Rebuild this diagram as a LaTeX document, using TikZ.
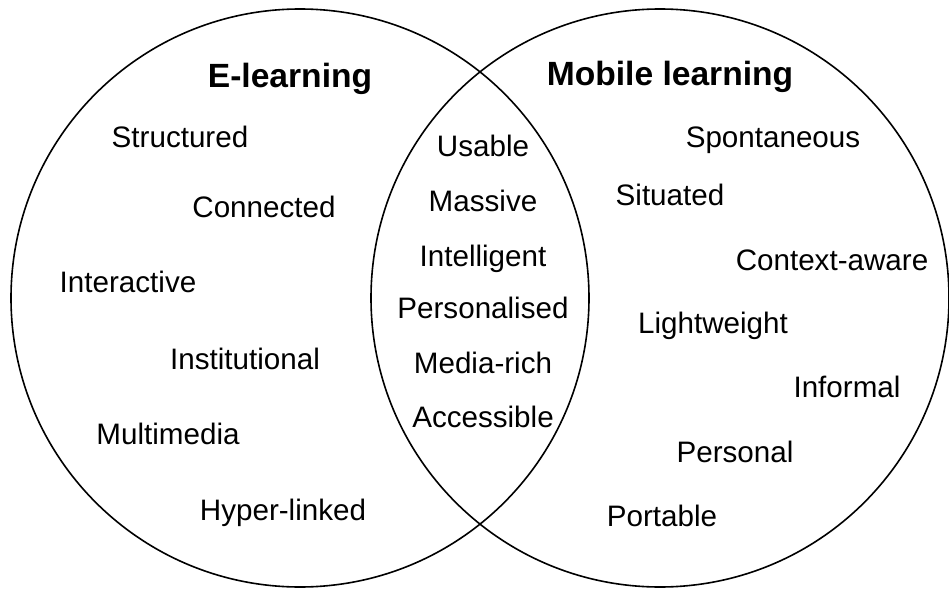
\documentclass[tikz,border=0pt]{standalone}
\usepackage{fontspec}
\setmainfont{Liberation Sans}
\begin{document}
\begin{tikzpicture}[x=0.5pt,y=-0.5pt,
  word/.style={anchor=base,inner sep=0pt,font=\fontsize{14.8}{17}\selectfont},
  title/.style={anchor=base,inner sep=0pt,font=\fontsize{16.8}{19}\selectfont\bfseries},
  ring/.style={draw=black,line width=0.8pt}]
\useasboundingbox (0,0) rectangle (949,589);
\draw[ring] (300,298) circle[radius=289*0.5pt];
\draw[ring] (660,298) circle[radius=289*0.5pt];
\node[title] (el) at (290,87) {E-learning};
\node[title] (ml) at (670,85) {Mobile learning};
\node[word] (w1) at (180,147) {Structured};
\node[word] (w2) at (264,217) {Connected};
\node[word] (w3) at (128,292) {Interactive};
\node[word] (w4) at (245,369) {Institutional};
\node[word] (w5) at (168,444) {Multimedia};
\node[word] (w6) at (283,520) {Hyper-linked};
\node[word] (c1) at (483,156) {Usable};
\node[word] (c2) at (483,211) {Massive};
\node[word] (c3) at (483,266) {Intelligent};
\node[word] (c4) at (483,318) {Personalised};
\node[word] (c5) at (483,373) {Media-rich};
\node[word] (c6) at (483,427) {Accessible};
\node[word] (m1) at (773,147) {Spontaneous};
\node[word] (m2) at (670,205) {Situated};
\node[word] (m3) at (832,270) {Context-aware};
\node[word] (m4) at (713,333) {Lightweight};
\node[word] (m5) at (847,397) {Informal};
\node[word] (m6) at (735,462) {Personal};
\node[word] (m7) at (662,526) {Portable};
\end{tikzpicture}
\end{document}
